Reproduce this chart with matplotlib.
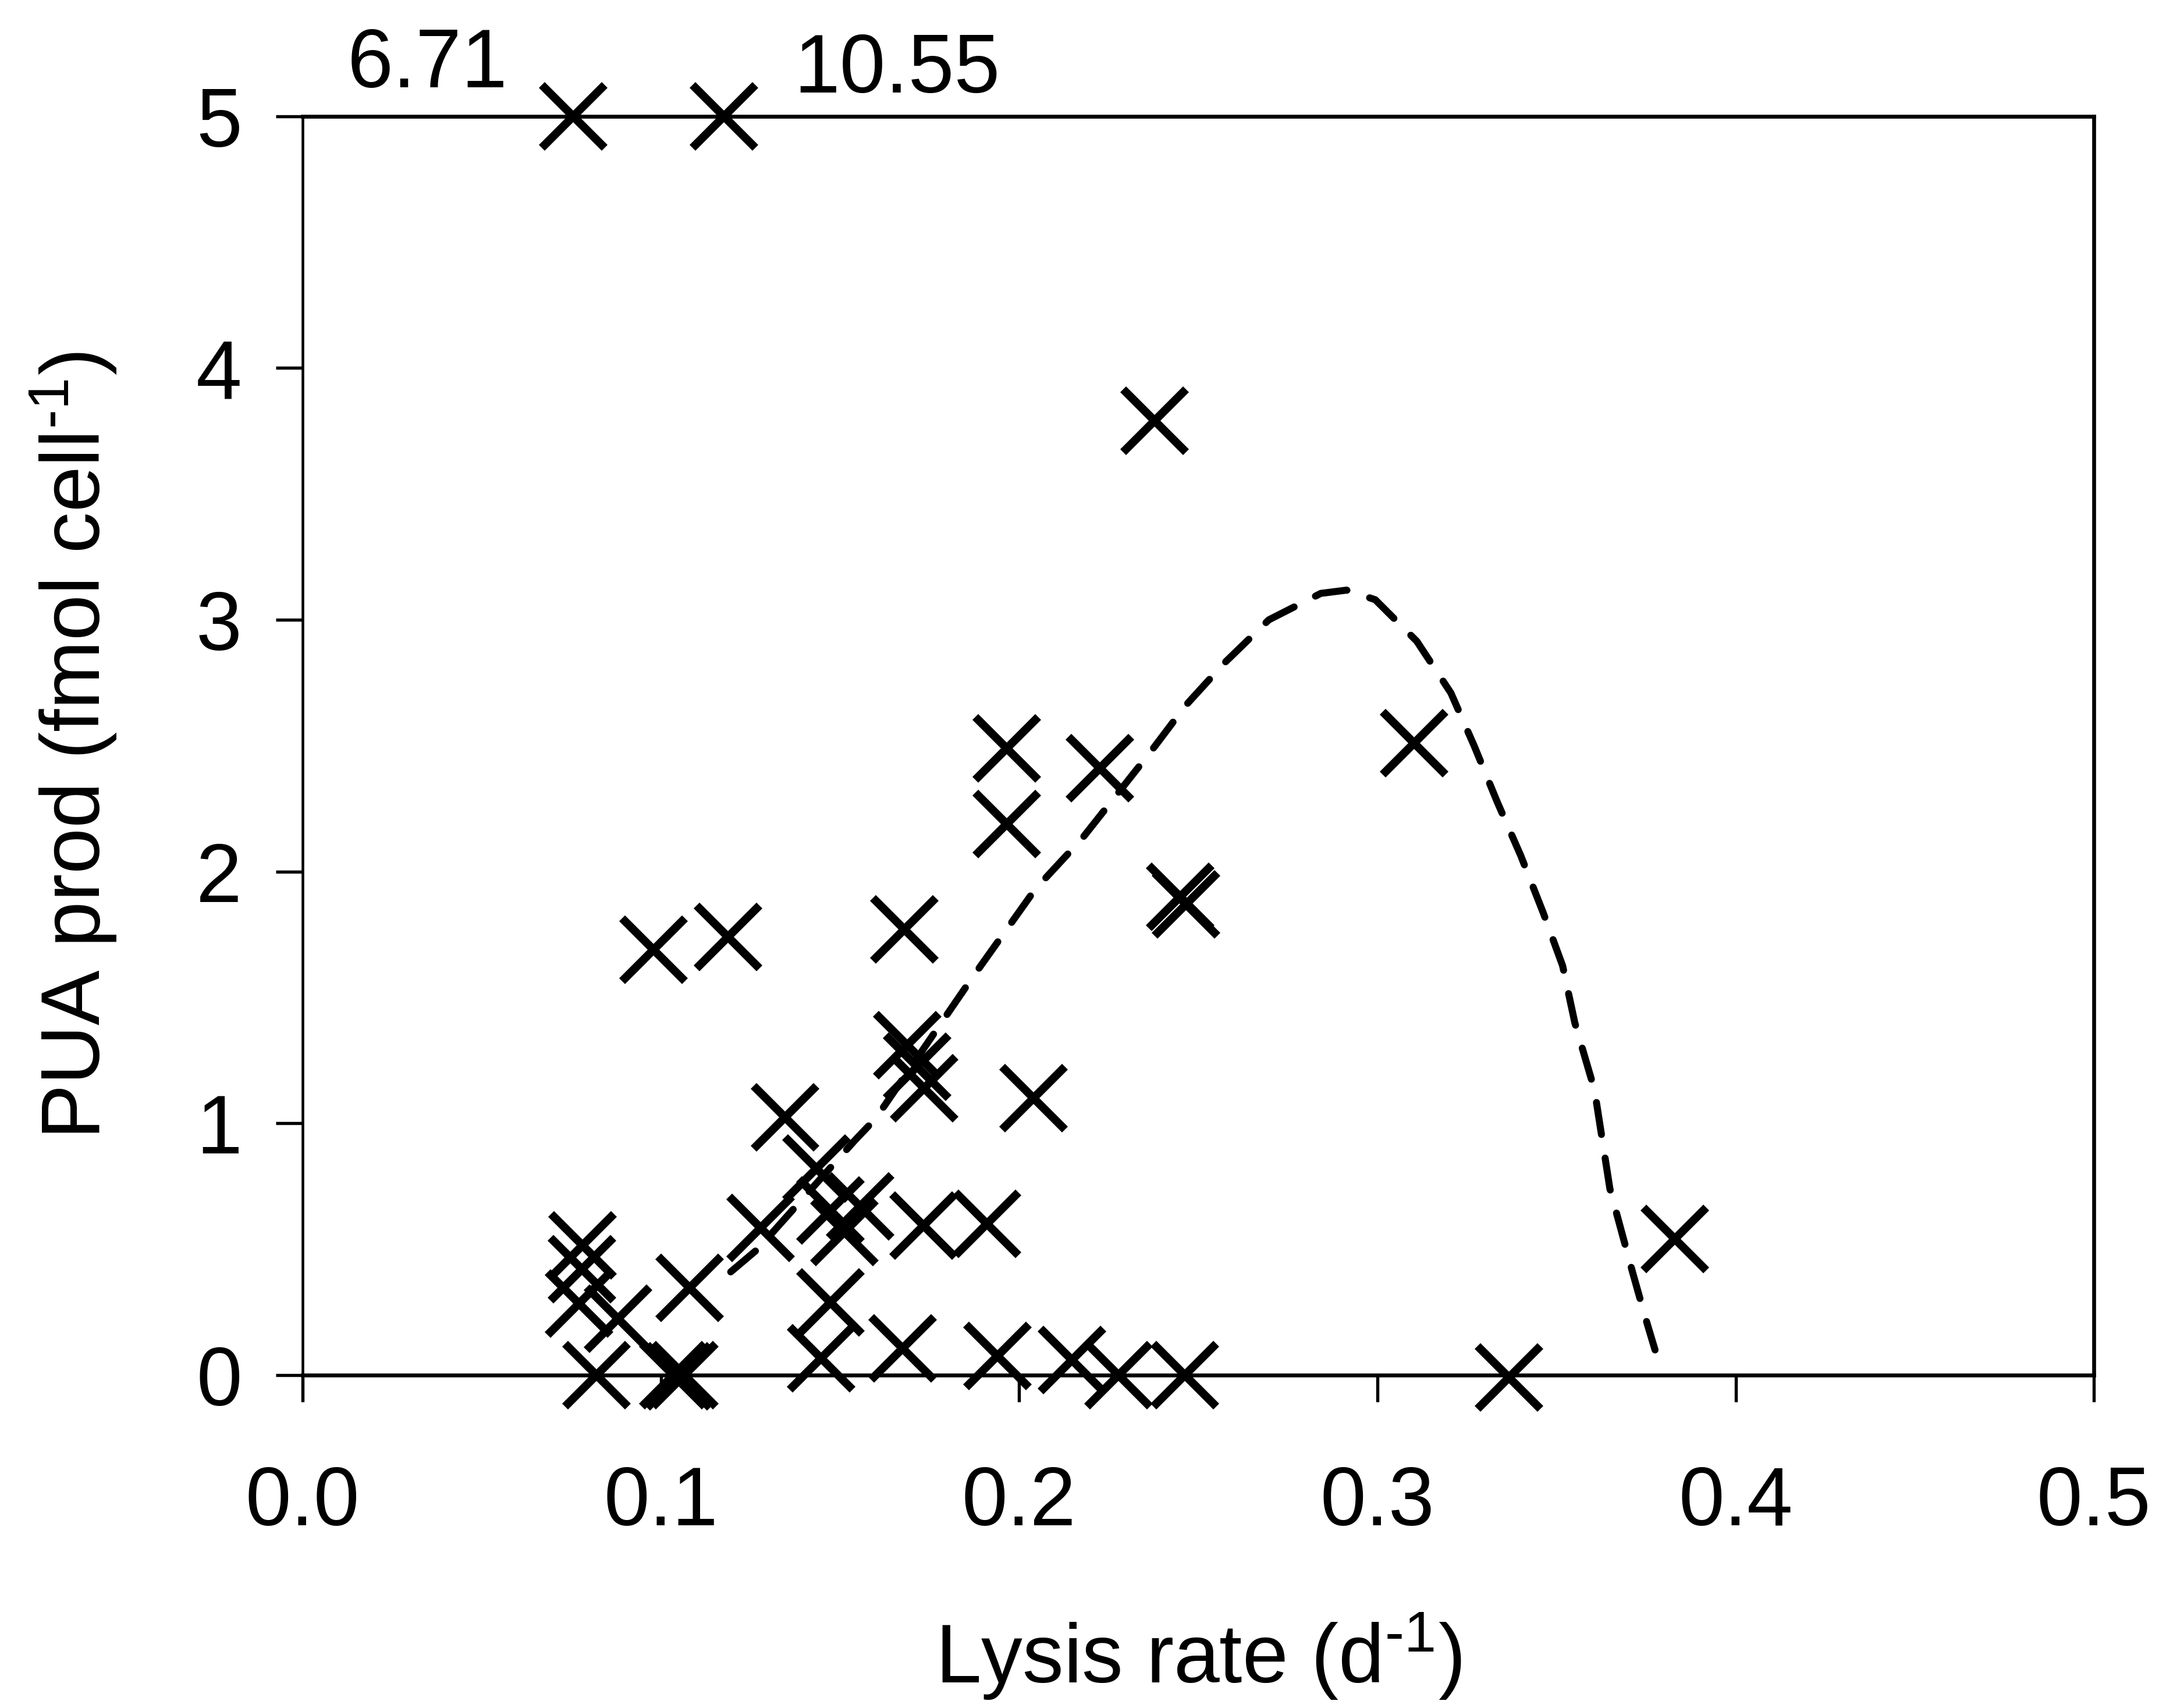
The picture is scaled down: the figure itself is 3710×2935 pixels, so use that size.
import matplotlib
matplotlib.use("Agg")
import matplotlib.pyplot as plt

plt.rcParams['font.family'] = ['Liberation Sans', 'DejaVu Sans']
plt.rcParams['mathtext.fontset'] = 'custom'
plt.rcParams['mathtext.rm'] = 'Liberation Sans'
plt.rcParams['mathtext.default'] = 'regular'

# measured points (values above 5 are drawn at the top edge and labelled)
lysis = [0.0755, 0.1176,
         0.2378, 0.1965, 0.2225, 0.1965, 0.3102, 0.245, 0.2465,
         0.098, 0.1188, 0.168,
         0.1688, 0.1715, 0.1735,
         0.204, 0.1346, 0.1435,
         0.1278, 0.1473, 0.1513, 0.1557, 0.1733, 0.191,
         0.0782, 0.078, 0.0772, 0.088, 0.108,
         0.082, 0.1035, 0.105, 0.1065,
         0.1473, 0.1448, 0.1675, 0.194, 0.2147, 0.2277, 0.2462,
         0.3368, 0.3831]
pua = [5.0, 5.0,
       3.79, 2.49, 2.41, 2.19, 2.51, 1.90, 1.87,
       1.69, 1.74, 1.77,
       1.31, 1.225, 1.14,
       1.10, 1.024, 0.82,
       0.585, 0.654, 0.569, 0.67, 0.593, 0.60,
       0.515, 0.42, 0.284, 0.223, 0.346,
       0.0, 0.0, -0.005, 0.0,
       0.29, 0.068, 0.106, 0.076, 0.061, 0.0, 0.0,
       -0.01, 0.54]

# fitted curve
fit_x = [0.1195, 0.127, 0.154, 0.160, 0.187, 0.2045, 0.2175, 0.2364, 0.2465,
         0.2574, 0.2697, 0.2842, 0.2914, 0.2994, 0.311, 0.3205, 0.327, 0.3335,
         0.340, 0.3463, 0.3517, 0.3551, 0.3606, 0.3649, 0.3712, 0.3747, 0.3775]
fit_y = [0.41, 0.50, 0.93, 1.02, 1.58, 1.93, 2.13, 2.47, 2.66,
         2.83, 3.00, 3.105, 3.118, 3.08, 2.915, 2.71, 2.50, 2.275,
         2.064, 1.836, 1.626, 1.40, 1.133, 0.74, 0.41, 0.233, 0.10]

offscale_labels = ["6.71", "10.55"]

fig = plt.figure(figsize=(3711 / 300, 2935 / 300), dpi=300)
ax = fig.add_axes([0.1401, 0.1949, 0.8295, 0.7370])

ax.plot(fit_x, fit_y, color='black', lw=2.9, linestyle=(0, (4.6, 3.4)),
        dash_capstyle='round', solid_joinstyle='round')
ax.plot(lysis, pua, linestyle='none', marker='x', ms=26, mew=3.4,
        color='black', clip_on=False)

ax.text(0.0348, 5.20, offscale_labels[0], fontsize=34, ha='center', va='center')
ax.text(0.166, 5.18, offscale_labels[1], fontsize=34, ha='center', va='center')

ax.set_xlim(0, 0.5)
ax.set_ylim(0, 5)
ax.set_xticks([0.0, 0.1, 0.2, 0.3, 0.4, 0.5])
ax.set_xticklabels(["0.0", "0.1", "0.2", "0.3", "0.4", "0.5"])
ax.set_yticks([0, 1, 2, 3, 4, 5])

ax.tick_params(axis='both', direction='out', length=11, width=1.3,
               labelsize=34, color='black')
ax.tick_params(axis='x', pad=26)
ax.tick_params(axis='y', pad=14)

for side in ['top', 'bottom', 'right']:
    ax.spines[side].set_linewidth(1.6)
ax.spines['left'].set_linewidth(1.1)

ax.set_xlabel(r"Lysis rate (d$^{\text{-}1}$)", fontsize=34, labelpad=28)
ax.set_ylabel(r"PUA prod (fmol cell$^{\text{-}1}$)", fontsize=34, labelpad=32)

fig.savefig("out.png", dpi=300)
